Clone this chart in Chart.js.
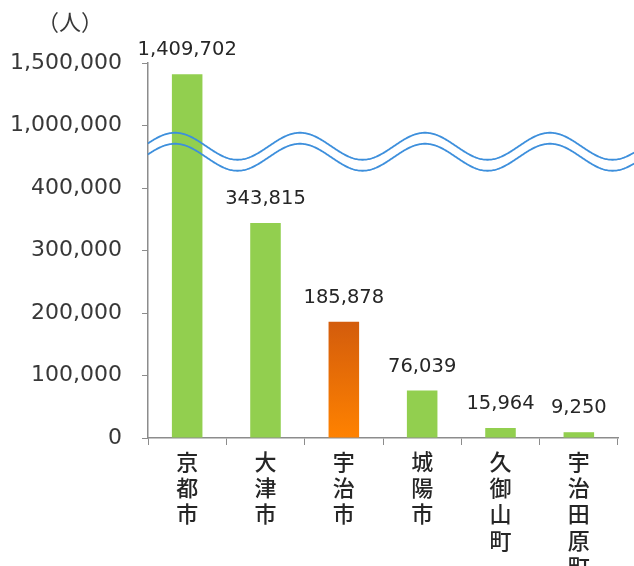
<!DOCTYPE html>
<html>
<head>
<meta charset="utf-8">
<script src="https://cdn.jsdelivr.net/npm/chart.js@4/dist/chart.umd.min.js"></script>
<style>
  html, body { margin: 0; padding: 0; background: #fff; }
  #wrap { width: 634px; height: 566px; }
</style>
</head>
<body>
<div id="wrap"><canvas id="chart"></canvas></div>
<script>
// ---- data ----
const cities = ["京都市", "大津市", "宇治市", "城陽市", "久御山町", "宇治田原町"];
const population = [1409702, 343815, 185878, 76039, 15964, 9250];
// broken axis: each tick gets the same height on the chart
const tickValues = [0, 100000, 200000, 300000, 400000, 1000000, 1500000];
const unitLabel = "（人）";
const highlightCity = "宇治市";

const STEP = 100;

// map a real value onto the evenly spaced broken axis
function toAxis(v) {
  for (let i = 0; i < tickValues.length - 1; i++) {
    const a = tickValues[i], b = tickValues[i + 1];
    if (v <= b) return STEP * (i + (v - a) / (b - a));
  }
  return STEP * (tickValues.length - 1);
}

const fmt = n => n.toLocaleString("en-US");
const GRAY = "#8c8c8c";
const TEXT = "#383838";
const GREEN = "#92cf4f";

function barColor(ctx) {
  if (cities[ctx.dataIndex] !== highlightCity) return GREEN;
  const area = ctx.chart.chartArea;
  const y = ctx.chart.scales.y;
  if (!area || !y) return "#f07000";
  const top = y.getPixelForValue(ctx.raw);
  if (!isFinite(top) || !isFinite(area.bottom) || top >= area.bottom) return "#f07000";
  const g = ctx.chart.ctx.createLinearGradient(0, top, 0, area.bottom);
  g.addColorStop(0, "#d35c0c");
  g.addColorStop(1, "#ff8200");
  return g;
}

const extras = {
  id: "extras",
  afterDatasetsDraw(chart) {
    const { ctx, chartArea, scales } = chart;
    const y = scales.y;

    // value labels
    ctx.save();
    ctx.font = "19.5px 'DejaVu Sans'";
    ctx.fillStyle = "#262626";
    ctx.textAlign = "center";
    ctx.textBaseline = "middle";
    chart.getDatasetMeta(0).data.forEach((bar, i) => {
      ctx.fillText(fmt(population[i]), bar.x, bar.y - 24);
    });
    ctx.restore();

    // wavy break marks
    const mid = y.getPixelForValue(458);
    const amp = 13.5, period = 125, phase = 175, gap = 5.5;
    ctx.save();
    ctx.strokeStyle = "#3d8fdc";
    ctx.lineWidth = 1.8;
    [-gap, gap].forEach(off => {
      ctx.beginPath();
      for (let x = chartArea.left; x <= chart.width; x++) {
        const yy = mid + off - amp * Math.cos(2 * Math.PI * (x - phase) / period);
        if (x === chartArea.left) ctx.moveTo(x, yy); else ctx.lineTo(x, yy);
      }
      ctx.stroke();
    });
    ctx.restore();

    // unit label
    ctx.save();
    ctx.font = "22px 'Noto Sans CJK JP'";
    ctx.fillStyle = TEXT;
    ctx.textAlign = "left";
    ctx.textBaseline = "middle";
    ctx.fillText(unitLabel, 37, 22);
    ctx.restore();
  }
};

new Chart(document.getElementById("chart"), {
  type: "bar",
  data: {
    labels: cities.map(c => [...c]),
    datasets: [{
      data: population.map(toAxis),
      backgroundColor: barColor,
      barPercentage: 0.39,
      categoryPercentage: 1
    }]
  },
  options: {
    responsive: true,
    maintainAspectRatio: false,
    animation: false,
    layout: { padding: { top: 63, right: 16, left: 0, bottom: 0 } },
    plugins: {
      legend: { display: false },
      tooltip: { enabled: false }
    },
    scales: {
      x: {
        grid: { display: true, drawOnChartArea: false, color: GRAY, tickLength: 7 },
        border: { color: GRAY, width: 1.5 },
        ticks: {
          color: "#262626",
          maxRotation: 0,
          autoSkip: false,
          padding: 3,
          font: { family: "'Noto Sans CJK JP'", size: 22, weight: "500", lineHeight: 1.2 }
        },
        afterFit(scale) { scale.height = 128; }
      },
      y: {
        min: 0,
        max: STEP * (tickValues.length - 1),
        grid: { display: true, drawOnChartArea: false, color: GRAY, tickLength: 6 },
        border: { color: GRAY, width: 1.5 },
        ticks: {
          stepSize: STEP,
          color: TEXT,
          padding: 20,
          font: { family: "'DejaVu Sans'", size: 22 },
          callback: v => fmt(tickValues[Math.round(v / STEP)])
        },
        afterFit(scale) { scale.width = 148; }
      }
    }
  },
  plugins: [extras]
});
</script>
</body>
</html>
